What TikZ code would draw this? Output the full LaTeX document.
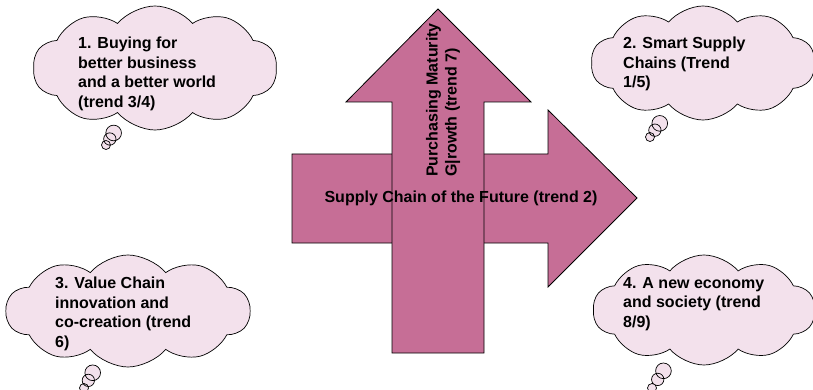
\documentclass[tikz,border=0pt]{standalone}
\usepackage{fontspec}
\setmainfont{Liberation Sans}
\usetikzlibrary{shapes.symbols,shapes.callouts}
\definecolor{arrowfill}{RGB}{198,110,150}
\definecolor{cloudfill}{RGB}{243,225,236}
\begin{document}
\begin{tikzpicture}[x=1pt,y=-1pt,
 arrowshape/.style={fill=arrowfill,draw=black,line width=0.8pt,line join=miter},
 thought/.style={cloud callout, cloud puffs=10, cloud puff arc=100, cloud ignores aspect,
   fill=cloudfill, draw=black, line width=0.7pt, inner sep=0pt,
   callout pointer segments=3,
   callout pointer start size=22pt and 19pt, callout pointer end size=10pt and 9pt},
 lbl/.style={font=\bfseries\fontsize{16}{19.5}\selectfont, align=left, inner sep=0pt, anchor=north west},
 arrowtext/.style={font=\bfseries\fontsize{16}{19}\selectfont, inner sep=0pt}]
\useasboundingbox (0,0) rectangle (813,390);
\draw[arrowshape] (292,154) -- (548,154) -- (548,110) -- (637,198) -- (548,287) -- (548,243) -- (292,243) -- cycle;
\draw[arrowshape] (392,353) -- (392,102) -- (346,102) -- (438,9) -- (531,102) -- (484,102) -- (484,353) -- cycle;
\node[arrowtext] (hz) at (461,198) {Supply Chain of the Future (trend 2)};
\node[arrowtext, rotate=90, align=left] (vt) at (443,100) {Purchasing Maturity\\G|rowth (trend 7)};
\node[thought, minimum width=244pt, minimum height=124pt, callout absolute pointer={(106,145)}] (c1) at (155,68) {};
\node[thought, minimum width=224pt, minimum height=114pt, callout absolute pointer={(650,137)}] (c2) at (703,63) {};
\node[thought, minimum width=244pt, minimum height=112pt, callout absolute pointer={(84,388)}] (c3) at (128,311) {};
\node[thought, minimum width=222pt, minimum height=110pt, callout absolute pointer={(652,388)}] (c4) at (704,310) {};
\node[lbl] (t1) at (78,37) {1. Buying for\\better business\\and a better world\\(trend 3/4)};
\node[lbl] (t2) at (623,37) {2. Smart Supply\\Chains (Trend\\1/5)};
\node[lbl] (t3) at (55,277) {3. Value Chain\\innovation and\\co-creation (trend\\6)};
\node[lbl] (t4) at (623,277) {4. A new economy\\and society (trend\\8/9)};
\end{tikzpicture}
\end{document}
